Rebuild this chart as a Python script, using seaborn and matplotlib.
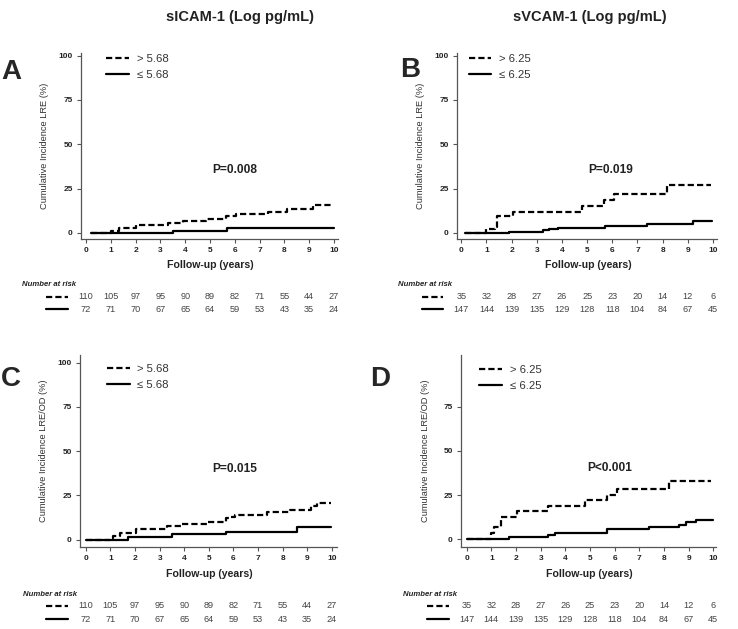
#! /usr/bin/env python3

import numpy as np
import matplotlib
matplotlib.use("Agg")
import matplotlib.pyplot as plt
import matplotlib.transforms as mtransforms
from matplotlib.lines import Line2D
import pandas as pd
import seaborn as sns

sns.set_style("ticks")
NARROW = ['Liberation Sans Narrow', 'Liberation Sans', 'DejaVu Sans']
plt.rcParams['font.family'] = ['Liberation Sans', 'DejaVu Sans']

W, H = 738, 629

years = [0, 1, 2, 3, 4, 5, 6, 7, 8, 9, 10]

# A: sICAM-1, LRE
a_hi_t = [0.2, 1.0, 1.35, 2.0, 3.3, 3.9, 4.85, 5.65, 6.05, 7.35, 8.1, 9.15, 9.95]
a_hi_v = [0, 1.0, 2.6, 4.5, 5.8, 6.6, 7.9, 9.4, 10.9, 12.1, 13.3, 15.8, 15.8]
a_lo_t = [0.2, 3.5, 5.7, 10.0]
a_lo_v = [0, 1.3, 2.6, 2.6]

# B: sVCAM-1, LRE
b_hi_t = [0.15, 1.0, 1.35, 1.42, 2.05, 4.8, 5.68, 6.05, 8.18, 9.92]
b_hi_v = [0, 2.5, 3.5, 9.3, 12.0, 15.2, 18.6, 21.8, 26.8, 26.8]
b_lo_t = [0.15, 1.9, 3.25, 3.5, 3.85, 5.72, 7.38, 9.22, 9.98]
b_lo_v = [0, 0.7, 1.4, 2.2, 2.9, 4.2, 5.3, 6.6, 6.6]

# C: sICAM-1, LRE/OD
c_hi_t = [0.0, 1.0, 1.1, 1.4, 2.05, 3.3, 3.9, 4.95, 5.68, 5.8, 6.05, 7.35, 8.3, 9.15, 9.4, 9.95]
c_hi_v = [0, 0.8, 1.8, 3.9, 5.7, 7.9, 8.7, 9.8, 12.3, 13.0, 13.9, 15.5, 16.8, 19.0, 20.8, 20.8]
c_lo_t = [0.0, 1.7, 3.52, 5.68, 8.6, 9.95]
c_lo_v = [0, 1.5, 3.0, 4.4, 7.0, 7.0]

# D: sVCAM-1, LRE/OD
d_hi_t = [0.0, 1.0, 1.1, 1.38, 2.05, 3.31, 4.8, 5.7, 6.08, 8.2, 9.9]
d_hi_v = [0, 3.4, 7.1, 12.4, 15.7, 18.9, 22.0, 25.0, 28.3, 33.2, 33.2]
d_lo_t = [0.0, 1.7, 3.3, 3.6, 5.7, 7.38, 8.6, 8.9, 9.28, 10.0]
d_lo_v = [0, 1.1, 2.3, 3.4, 5.9, 6.8, 8.3, 9.9, 11.0, 11.0]

icam_hi_risk = [110, 105, 97, 95, 90, 89, 82, 71, 55, 44, 27]
icam_lo_risk = [72, 71, 70, 67, 65, 64, 59, 53, 43, 35, 24]
vcam_hi_risk = [35, 32, 28, 27, 26, 25, 23, 20, 14, 12, 6]
vcam_lo_risk = [147, 144, 139, 135, 129, 128, 118, 104, 84, 67, 45]

DASH = (0, (2.8, 1.4))
LW = 1.6
GREY = '#555555'

fig = plt.figure(figsize=(W / 100, H / 100), dpi=100)


def fx(px):
    return px / W


def fy(py):
    return 1 - py / H


def panel(box, xlim, ylim, yticks, hi, lo, labels, ylabel, ptext, ppos,
          leg_pos, risk, risk_rows, risk_title, key_x):
    left, top, right, bottom = box
    ax = fig.add_axes([fx(left), fy(bottom), fx(right - left), (bottom - top) / H])
    sns.lineplot(x=hi[0], y=hi[1], ax=ax, color='black', linewidth=LW,
                 drawstyle='steps-post', linestyle=DASH, label=labels[0],
                 estimator=None, sort=False)
    sns.lineplot(x=lo[0], y=lo[1], ax=ax, color='black', linewidth=LW,
                 drawstyle='steps-post', linestyle='-', label=labels[1],
                 estimator=None, sort=False)
    ax.set_xlim(*xlim)
    ax.set_ylim(*ylim)
    ax.set_xticks(years)
    ax.set_yticks(yticks)
    sns.despine(ax=ax)
    for s in ['left', 'bottom']:
        ax.spines[s].set_color(GREY)
        ax.spines[s].set_linewidth(0.9)
    ax.tick_params(length=3, width=0.8, color=GREY, labelsize=6, pad=3)
    for t in ax.get_xticklabels() + ax.get_yticklabels():
        t.set_fontweight('bold')
        t.set_family(NARROW)
        t.set_color('#222222')
    ax.set_ylabel(ylabel, fontsize=6.7, family=NARROW, color='#333333')
    ax.yaxis.set_label_coords(-0.123, 0.5)
    ax.set_xlabel('Follow-up (years)', fontsize=7.6, family=NARROW,
                  fontweight='bold', color='#222222')
    ax.xaxis.set_label_coords(0.505, -0.115)
    ax.text(ppos[0], ppos[1], ptext, fontsize=8.6, family=NARROW,
            fontweight='bold', ha='center', va='center', color='#222222')
    leg = ax.legend(loc='upper left', frameon=False,
                    bbox_to_anchor=leg_pos, borderpad=0, borderaxespad=0,
                    handlelength=2.0, handletextpad=0.7, labelspacing=0.55,
                    prop={'family': NARROW, 'size': 8.2})
    for t in leg.get_texts():
        t.set_color('#333333')

    # number at risk table
    tr = mtransforms.blended_transform_factory(ax.transData, fig.transFigure)
    fig.text(fx(risk_title[0]), fy(risk_title[1]), 'Number at risk',
             fontsize=5.6, fontweight='bold', style='italic', va='center',
             color='#222222')
    for row, py, ls in zip(risk, risk_rows, [DASH, '-']):
        for yr, n in zip(years, row):
            ax.text(yr, fy(py), str(n), transform=tr, ha='center',
                    va='center', fontsize=6.6, family=NARROW,
                    color='#444444')
        fig.add_artist(Line2D([fx(key_x[0]), fx(key_x[1])], [fy(py), fy(py)],
                              color='black', linewidth=LW, linestyle=ls,
                              transform=fig.transFigure))
    return ax


panel((81, 53, 338, 239), (-0.2, 10.16), (-3.4, 101.5), [0, 25, 50, 75, 100],
      (a_hi_t, a_hi_v), (a_lo_t, a_lo_v), ['> 5.68', '≤ 5.68'],
      'Cumulative Incidence LRE (%)', 'P=0.008', (6.0, 35.5),
      (0.097, 0.995), [icam_hi_risk, icam_lo_risk], [296.7, 309.3],
      (21.7, 284), (46, 68))

panel((457, 53, 717, 239), (-0.17, 10.16), (-3.4, 101.5), [0, 25, 50, 75, 100],
      (b_hi_t, b_hi_v), (b_lo_t, b_lo_v), ['> 6.25', '≤ 6.25'],
      'Cumulative Incidence LRE (%)', 'P=0.019', (5.92, 35.5),
      (0.045, 0.995), [vcam_hi_risk, vcam_lo_risk], [296.7, 309.3],
      (398, 284), (422, 443))

panel((80, 355, 337, 547), (-0.24, 10.21), (-4.2, 104.4), [0, 25, 50, 75, 100],
      (c_hi_t, c_hi_v), (c_lo_t, c_lo_v), ['> 5.68', '≤ 5.68'],
      'Cumulative Incidence LRE/OD (%)', 'P=0.015', (6.06, 40.2),
      (0.104, 0.955), [icam_hi_risk, icam_lo_risk], [606, 619.3],
      (22.7, 594), (46, 68))

panel((461, 355, 716, 547), (-0.23, 10.11), (-4.4, 104.2), [0, 25, 50, 75],
      (d_hi_t, d_hi_v), (d_lo_t, d_lo_v), ['> 6.25', '≤ 6.25'],
      'Cumulative Incidence LRE/OD (%)', 'P<0.001', (5.81, 40.2),
      (0.072, 0.95), [vcam_hi_risk, vcam_lo_risk], [606, 619.3],
      (403, 594), (427, 449))

# column titles and panel letters
fig.text(fx(240), fy(17), 'sICAM-1 (Log pg/mL)', fontsize=10.5,
         fontweight='bold', ha='center', va='center', color='#222222')
fig.text(fx(590), fy(17), 'sVCAM-1 (Log pg/mL)', fontsize=10.5,
         fontweight='bold', ha='center', va='center', color='#222222')
fig.text(fx(1), fy(72), 'A', fontsize=20, fontweight='bold', ha='left', va='center')
fig.text(fx(400), fy(70), 'B', fontsize=20, fontweight='bold', ha='left', va='center')
fig.text(fx(1), fy(379), 'C', fontsize=20, fontweight='bold', ha='left', va='center')
fig.text(fx(370), fy(379), 'D', fontsize=20, fontweight='bold', ha='left', va='center')

plt.savefig("out.png", dpi=100)
